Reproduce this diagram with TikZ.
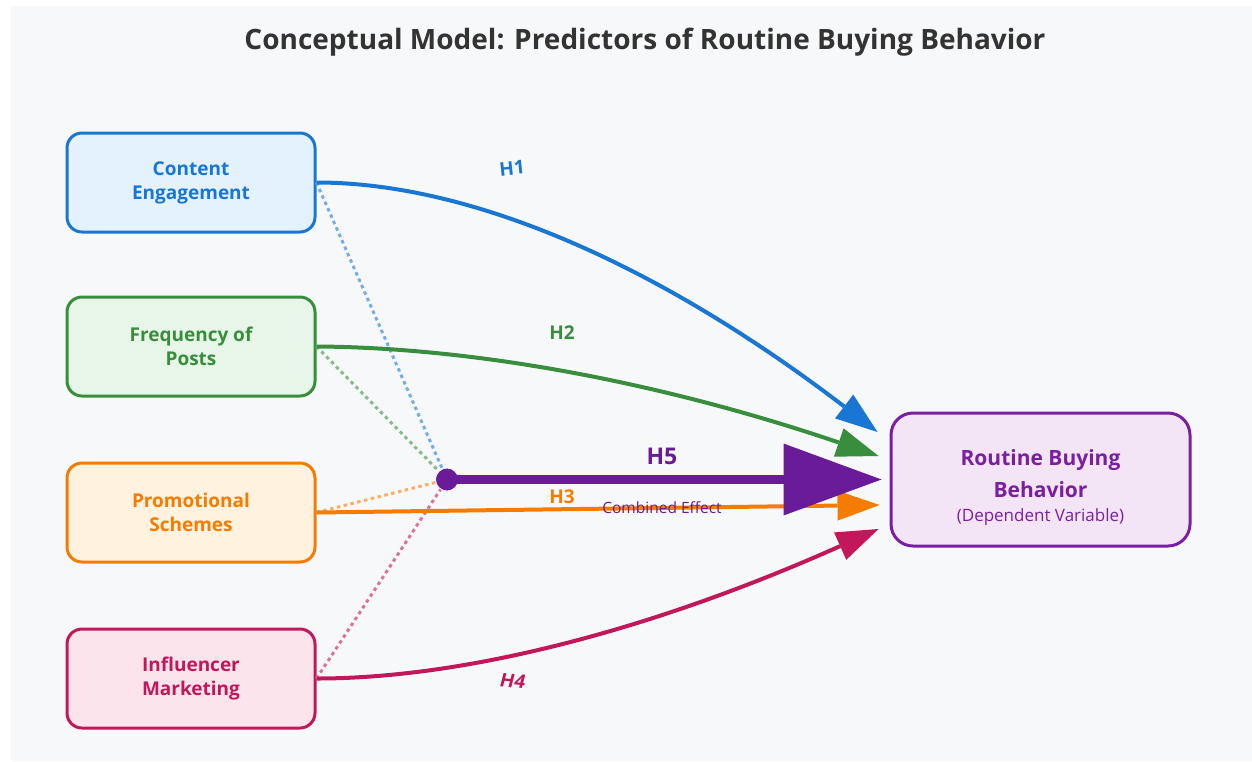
\documentclass[tikz,border=0pt]{standalone}
\usepackage{fontspec}
\setmainfont{Open Sans}
\usetikzlibrary{arrows.meta}
\definecolor{bg}{HTML}{F7F8FA}
\definecolor{ttl}{HTML}{333333}
\definecolor{cblue}{HTML}{1976D2}\definecolor{fblue}{HTML}{E3F2FD}
\definecolor{cgreen}{HTML}{388E3C}\definecolor{fgreen}{HTML}{E8F5E9}
\definecolor{corange}{HTML}{F57C00}\definecolor{forange}{HTML}{FFF3E0}
\definecolor{cpink}{HTML}{C2185B}\definecolor{fpink}{HTML}{FCE4EC}
\definecolor{cpurple}{HTML}{7B1FA2}\definecolor{fpurple}{HTML}{F3E5F5}
\definecolor{dpurple}{HTML}{6A1B9A}
\tikzset{
  predbox/.style 2 args={draw=#1, fill=#2, text=#1, line width=3pt, rounded corners=15pt,
    minimum width=248pt, minimum height=99pt, align=center, inner sep=0pt,
    font=\fontsize{19}{24}\selectfont\bfseries},
  hyp/.style={draw=#1, line width=4pt,
    -{Triangle[length=42pt,width=30pt,line width=0pt]}},
  dots/.style={draw=#1!60, line width=3pt, dash pattern=on 3.5pt off 3.5pt},
  hlab/.style={text=#1, font=\fontsize{19}{21}\selectfont\bfseries, inner sep=0pt},
}
\begin{document}
\begin{tikzpicture}[x=1pt,y=-1pt]
\useasboundingbox (0,0) rectangle (1252,761);
\fill[bg] (11,6) rectangle (1252,761);
\node[text=ttl, font=\fontsize{28}{34}\selectfont\bfseries] (title) at (645,42) {Conceptual Model: Predictors of Routine Buying Behavior};
\node[predbox={cblue}{fblue}] (ce) at (191,182.5) {Content\\Engagement};
\node[predbox={cgreen}{fgreen}] (fp) at (191,346.5) {Frequency of\\Posts};
\node[predbox={corange}{forange}] (ps) at (191,512.5) {Promotional\\Schemes};
\node[predbox={cpink}{fpink}] (im) at (191,678.5) {Influencer\\Marketing};
\node[draw=cpurple, fill=fpurple, text=cpurple, line width=3pt, rounded corners=22pt,
  minimum width=299pt, minimum height=133pt, align=center, inner sep=0pt,
  font=\fontsize{21}{32}\selectfont\bfseries] (tgt) at (1040.5,479.5)
  {\rule{0pt}{32pt}Routine Buying\\Behavior\\[-8pt]\fontsize{17}{26}\selectfont\mdseries(Dependent Variable)};
\coordinate (hubc) at (447,479.5);
% dotted links to hub
\draw[dots=cblue] (ce.east) -- (hubc);
\draw[dots=cgreen] (fp.east) -- (hubc);
\draw[dots=corange] (ps.east) -- (hubc);
\draw[dots=cpink] (im.east) -- (hubc);
% hypotheses
\draw[hyp=cblue] (ce.east) .. controls (472,182.5) and (659.7,265.3) .. ([shift={(-12,-47.5)}]tgt.west);
\draw[hyp=cgreen] (fp.east) .. controls (478.7,347.5) and (666.7,384) .. ([shift={(-11,-23.5)}]tgt.west);
\draw[hyp=corange] (ps.east) -- ([shift={(-10,25.5)}]tgt.west);
\draw[hyp=cpink] (im.east) .. controls (468,678.5) and (656,628.3) .. ([shift={(-11,49.5)}]tgt.west);
\node[circle, fill=dpurple, draw=white, line width=0.8pt, minimum size=23pt, inner sep=0pt] (hub) at (hubc) {};
\draw[draw=dpurple, line width=9pt, -{Triangle[length=98pt,width=72pt,line width=0pt]}] (hub.center) -- ([xshift=-8]tgt.west);
% labels
\node[hlab=cblue, rotate=6] (l1) at (512,168) {H1};
\node[hlab=cgreen] (l2) at (562,333) {H2};
\node[hlab=corange] (l3) at (562,497) {H3};
\node[hlab=cpink, rotate=-6, xslant=0.15] (l4) at (513,681) {H4};
\node[text=dpurple, font=\fontsize{23}{25}\selectfont\bfseries, inner sep=0pt] (l5) at (662,456) {H5};
\node[text=dpurple, font=\fontsize{15.5}{17}\selectfont, inner sep=0pt] (ceff) at (662,508) {Combined Effect};
\end{tikzpicture}
\end{document}
